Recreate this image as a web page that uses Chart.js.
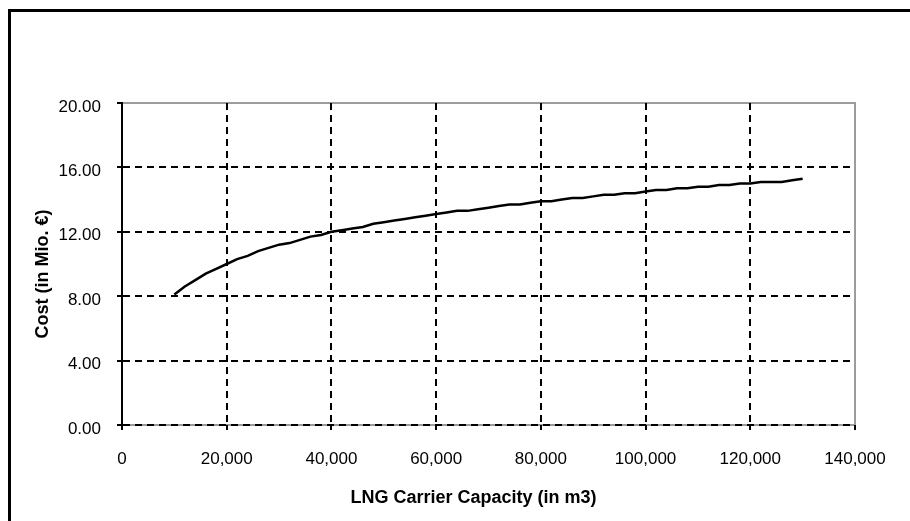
<!DOCTYPE html>
<html>
<head>
<meta charset="utf-8">
<script src="https://cdn.jsdelivr.net/npm/chart.js@4.4.1/dist/chart.umd.min.js"></script>
<style>
  html, body { margin: 0; padding: 0; background: #fff; overflow: hidden; }
  #frame { position: absolute; left: 8px; top: 9px; width: 1000px; height: 1000px; border: 3px solid #000; }
  #chartLng { position: absolute; left: 0; top: 0; }
</style>
</head>
<body>
<div id="frame"></div>
<canvas id="chartLng" width="910" height="521"></canvas>
<script>
  // LNG carrier capacity (m3) vs cost (Mio. €)
  const capacity = [
    10000, 12000, 14000, 16000, 18000, 20000, 22000, 24000, 26000, 28000,
    30000, 32000, 34000, 36000, 38000, 40000, 42000, 44000, 46000, 48000,
    50000, 52000, 54000, 56000, 58000, 60000, 62000, 64000, 66000, 68000,
    70000, 72000, 74000, 76000, 78000, 80000, 82000, 84000, 86000, 88000,
    90000, 92000, 94000, 96000, 98000, 100000, 102000, 104000, 106000, 108000,
    110000, 112000, 114000, 116000, 118000, 120000, 122000, 124000, 126000, 128000,
    130000
  ];
  const cost = [
    8.1, 8.6, 9.0, 9.4, 9.7, 10.0, 10.3, 10.5, 10.8, 11.0,
    11.2, 11.3, 11.5, 11.7, 11.8, 12.0, 12.1, 12.2, 12.3, 12.5,
    12.6, 12.7, 12.8, 12.9, 13.0, 13.1, 13.2, 13.3, 13.3, 13.4,
    13.5, 13.6, 13.7, 13.7, 13.8, 13.9, 13.9, 14.0, 14.1, 14.1,
    14.2, 14.3, 14.3, 14.4, 14.4, 14.5, 14.6, 14.6, 14.7, 14.7,
    14.8, 14.8, 14.9, 14.9, 15.0, 15.0, 15.1, 15.1, 15.1, 15.2,
    15.3
  ];
  const xTicks = [0, 20000, 40000, 60000, 80000, 100000, 120000, 140000];
  const yTicks = [0, 4, 8, 12, 16, 20];

  const FONT = "'Liberation Sans', Arial, sans-serif";

  // grey plot area border, drawn under the dashed grid
  const plotFrame = {
    id: 'plotFrame',
    beforeDraw(chart) {
      const {ctx, chartArea: a} = chart;
      ctx.save();
      ctx.strokeStyle = '#9c9c9c';
      ctx.lineWidth = 2;
      ctx.strokeRect(a.left, a.top, a.right - a.left, a.bottom - a.top);
      ctx.restore();
    }
  };

  new Chart(document.getElementById('chartLng'), {
    type: 'line',
    data: {
      datasets: [{
        label: 'Cost',
        data: capacity.map((c, i) => ({x: c, y: cost[i]})),
        borderColor: '#000',
        borderWidth: 2.5,
        pointRadius: 0,
        tension: 0,
        fill: false
      }]
    },
    options: {
      responsive: false,
      animation: false,
      devicePixelRatio: 1,
      layout: { padding: { left: 0, top: 103, right: 55, bottom: 0 } },
      plugins: { legend: { display: false }, tooltip: { enabled: false } },
      scales: {
        x: {
          type: 'linear',
          min: xTicks[0],
          max: xTicks[xTicks.length - 1],
          afterFit: s => { s.height = 96; },
          afterBuildTicks: s => { s.ticks = xTicks.map(v => ({value: v})); },
          ticks: {
            color: '#000',
            font: { family: FONT, size: 17 },
            padding: 19,
            maxRotation: 0,
            callback: v => v.toLocaleString('en-US')
          },
          grid: {
            color: c => (c.tick && c.tick.value === 140000) ? 'rgba(0,0,0,0)' : '#000',
            lineWidth: 2,
            tickLength: 5,
            tickColor: '#000',
            tickWidth: 2,
            tickBorderDash: []
          },
          border: { display: false, dash: [7, 5] },
          title: {
            display: true,
            text: 'LNG Carrier Capacity (in m3)      ',
            color: '#000',
            font: { family: FONT, size: 18, weight: 'bold' },
            padding: { top: 0, bottom: 12 }
          }
        },
        y: {
          min: yTicks[0],
          max: yTicks[yTicks.length - 1],
          afterFit: s => { s.width = 122; },
          afterBuildTicks: s => { s.ticks = yTicks.map(v => ({value: v})); },
          ticks: {
            color: '#000',
            font: { family: FONT, size: 17 },
            padding: 16,
            labelOffset: 4,
            callback: v => v.toFixed(2)
          },
          grid: {
            color: c => (c.tick && c.tick.value === 20) ? 'rgba(0,0,0,0)' : '#000',
            lineWidth: 2,
            tickLength: 5,
            tickColor: '#000',
            tickWidth: 2,
            tickBorderDash: []
          },
          border: { display: true, color: '#000', width: 2, dash: [7, 5] },
          title: {
            display: true,
            text: 'Cost (in Mio. €)    ',
            color: '#000',
            font: { family: FONT, size: 18, weight: 'bold' },
            padding: { top: 32, bottom: 0 }
          }
        }
      }
    },
    plugins: [plotFrame]
  });
</script>
</body>
</html>
